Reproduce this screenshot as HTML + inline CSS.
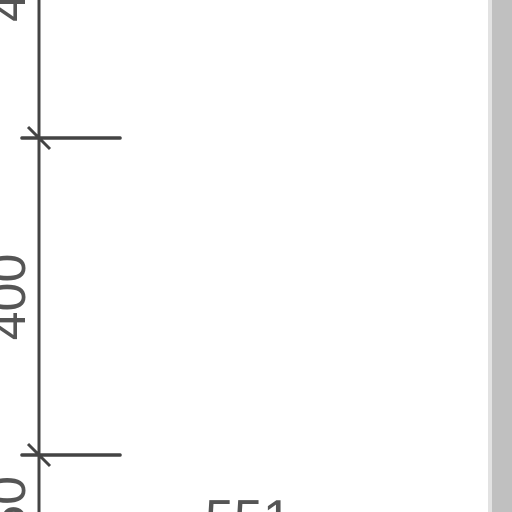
<!DOCTYPE html>
<html><head><meta charset="utf-8"><style>
html,body{margin:0;padding:0;background:#fff;width:512px;height:512px;overflow:hidden}
svg{display:block;overflow:hidden}
text{font-family:"Liberation Sans",sans-serif;fill:#555}
</style></head><body>
<svg width="512" height="512" viewBox="0 0 512 512">
  <rect x="488" y="0" width="4" height="512" fill="#e2e2e2"/>
  <rect x="492" y="0" width="20" height="512" fill="#c0c0c0"/>
  <line x1="39" y1="0" x2="39" y2="512" stroke="#444" stroke-width="3"/>
  <g id="ticks"></g>
  <text transform="translate(25,22) rotate(-90)" font-size="52" text-anchor="start">450</text>
  <text transform="translate(25,297) rotate(-90)" font-size="52" text-anchor="middle">400</text>
  <text transform="translate(25,476) rotate(-90)" font-size="52" text-anchor="end">350</text>
  <text x="205" y="536" font-size="52">551</text>
</svg>
<script>
const tickValues = [425, 375];
const yTop = 425, yBot = 375, pxTop = 138, pxBot = 455;
function y(v){ return pxTop + (yTop - v) * (pxBot - pxTop) / (yTop - yBot); }
const g = document.getElementById('ticks');
const ns = 'http://www.w3.org/2000/svg';
tickValues.forEach(v => {
  const yy = y(v);
  const h = document.createElementNS(ns, 'line');
  h.setAttribute('x1', 22); h.setAttribute('x2', 120);
  h.setAttribute('y1', yy); h.setAttribute('y2', yy);
  h.setAttribute('stroke', '#444'); h.setAttribute('stroke-width', 3.5); h.setAttribute('stroke-linecap', 'round');
  
  
  g.appendChild(h);
  const d = document.createElementNS(ns, 'line');
  d.setAttribute('x1', 28); d.setAttribute('y1', yy - 11);
  d.setAttribute('x2', 50); d.setAttribute('y2', yy + 11);
  d.setAttribute('stroke', '#444'); d.setAttribute('stroke-width', 3);
  
  
  g.appendChild(d);
});
</script>
</body></html>
